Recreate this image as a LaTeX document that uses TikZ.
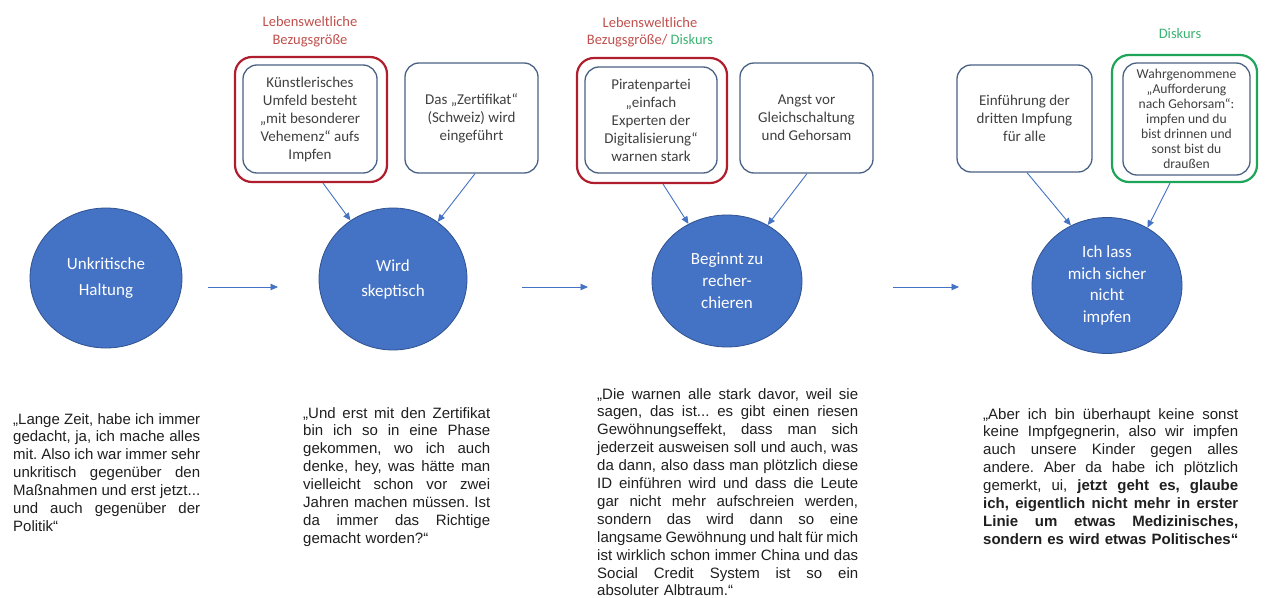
\documentclass[tikz,border=0pt]{standalone}
\usepackage{fontspec}
\setmainfont{Liberation Sans}
\newfontfamily\calfont{Carlito}
\usetikzlibrary{shapes.geometric,arrows.meta}
\definecolor{circfill}{HTML}{4472C4}
\definecolor{circdraw}{HTML}{2F528F}
\definecolor{arrowblue}{HTML}{4472C4}
\definecolor{boxline}{HTML}{4A6283}
\definecolor{boxtext}{HTML}{404040}
\definecolor{framered}{HTML}{B01E2E}
\definecolor{framegreen}{HTML}{1FA55A}
\definecolor{labred}{HTML}{C0504D}
\definecolor{labgreen}{HTML}{3CB371}
\definecolor{quotetext}{HTML}{1F1F1F}
\newlength\qw
\newcommand\jl[1]{\leavevmode\hbox to\qw{\spaceskip=4.17pt plus 1fil minus 1.2pt\relax #1}}
\frenchspacing
\hyphenpenalty=10000
\begin{document}
\begin{tikzpicture}[x=1pt,y=-1pt,
  stage/.style={ellipse, fill=circfill, draw=circdraw, line width=0.8pt, text=white, align=center, inner sep=0pt},
  inbox/.style={rectangle, rounded corners=14pt, draw=boxline, line width=1.3pt, text=boxtext, align=center, inner sep=0pt, font=\calfont\fontsize{15}{18}\selectfont},
  redframe/.style={rectangle, rounded corners=17pt, draw=framered, line width=2.2pt},
  greenframe/.style={rectangle, rounded corners=17pt, draw=framegreen, line width=2.2pt},
  conn/.style={draw=arrowblue, line width=0.9pt, -{Triangle[length=7.5pt,width=6.5pt]}},
  quote/.style={anchor=north west, inner sep=0pt, align=left, text=quotetext, font=\fontsize{15}{17.9}\selectfont, text width=#1, execute at begin node={\setlength\qw{#1}}},
  lab/.style={align=center, inner sep=0pt, font=\calfont\fontsize{14.5}{17.5}\selectfont}]
\useasboundingbox[fill=white] (0,0) rectangle (1268,597);

% labels
\node[lab, text=labred] (l1) at (310,31.5) {Lebensweltliche\\Bezugsgröße};
\node[lab, text=labred] (l2) at (650,32) {Lebensweltliche\\Bezugsgröße/ \textcolor{labgreen}{Diskurs}};
\node[lab, text=labgreen] (l3) at (1180,34) {Diskurs};

% top boxes
\node[redframe, minimum width=152pt, minimum height=125pt] (fA) at (311,119.5) {};
\node[inbox, minimum width=134pt, minimum height=108pt] (bA) at (310,119) {Künstlerisches\\Umfeld besteht\\„mit besonderer\\Vehemenz“ aufs\\Impfen};
\node[inbox, minimum width=133pt, minimum height=110pt] (bB) at (471.5,118) {Das „Zertifikat“\\(Schweiz) wird\\eingeführt};
\node[redframe, minimum width=150pt, minimum height=125pt] (fC) at (652,120.5) {};
\node[inbox, minimum width=132pt, minimum height=106pt] (bC) at (651,120) {Piratenpartei\\„einfach\\Experten der\\Digitalisierung“\\warnen stark};
\node[inbox, minimum width=133pt, minimum height=110pt] (bD) at (806.5,118) {Angst vor\\Gleichschaltung\\und Gehorsam};
\node[inbox, minimum width=135pt, minimum height=107pt] (bE) at (1024.5,118.5) {Einführung der\\dritten Impfung\\für alle};
\node[greenframe, minimum width=145pt, minimum height=127pt] (fF) at (1184.5,118.5) {};
\node[inbox, minimum width=127pt, minimum height=112pt, font=\calfont\fontsize{13.6}{15.1}\selectfont] (bF) at (1186.5,119) {Wahrgenommene\\„Aufforderung\\nach Gehorsam“:\\impfen und du\\bist drinnen und\\sonst bist du\\draußen};

% stages
\node[stage, minimum width=152pt, minimum height=140pt, font=\calfont\fontsize{17}{26}\selectfont] (s1) at (106,278) {Unkritische\\Haltung};
\node[stage, minimum width=148pt, minimum height=142pt, font=\calfont\fontsize{17}{25}\selectfont] (s2) at (393,279) {Wird\\skeptisch};
\node[stage, minimum width=150pt, minimum height=132pt, font=\calfont\fontsize{17}{22}\selectfont] (s3) at (727,281) {Beginnt zu\\recher-\\chieren};
\node[stage, minimum width=150pt, minimum height=136pt, font=\calfont\fontsize{17}{21.7}\selectfont] (s4) at (1107,285.5) {Ich lass\\mich sicher\\nicht\\impfen};

% horizontal arrows
\coordinate (h1a) at (208,287); \coordinate (h1b) at (278,287);
\coordinate (h2a) at (522,287); \coordinate (h2b) at (588,287);
\coordinate (h3a) at (893,287); \coordinate (h3b) at (959,287);
\draw[conn] (h1a) -- (h1b);
\draw[conn] (h2a) -- (h2b);
\draw[conn] (h3a) -- (h3b);

% box to stage arrows
\draw[conn] ([xshift=12pt]fA.south) -- (s2.126);
\draw[conn] ([xshift=3.5pt]bB.south) -- (s2.52);
\draw[conn] ([xshift=11pt]fC.south) -- (s3.124);
\draw[conn] ([xshift=0.5pt]bD.south) -- (s3.54);
\draw[conn] ([xshift=2.5pt]bE.south) -- (s4.121);
\draw[conn] ([xshift=-14.5pt]fF.south) -- (s4.55);

% quotes
\node[quote=187pt] (q1) at (13,413) {%
\jl{„Lange Zeit, habe ich immer}\\
\jl{gedacht, ja, ich mache alles}\\
\jl{mit. Also ich war immer sehr}\\
\jl{unkritisch gegenüber den}\\
\jl{Maßnahmen und erst jetzt...}\\
\jl{und auch gegenüber der}\\
Politik“};
\node[quote=187pt] (q2) at (303,407) {%
\jl{„Und erst mit den Zertifikat}\\
\jl{bin ich so in eine Phase}\\
\jl{gekommen, wo ich auch}\\
\jl{denke, hey, was hätte man}\\
\jl{vielleicht schon vor zwei}\\
\jl{Jahren machen müssen. Ist}\\
\jl{da immer das Richtige}\\
gemacht worden?“};
\node[quote=261pt] (q3) at (597,388) {%
\jl{„Die warnen alle stark davor, weil sie}\\
\jl{sagen, das ist... es gibt einen riesen}\\
\jl{Gewöhnungseffekt, dass man sich}\\
\jl{jederzeit ausweisen soll und auch, was}\\
\jl{da dann, also dass man plötzlich diese}\\
\jl{ID einführen wird und dass die Leute}\\
\jl{gar nicht mehr aufschreien werden,}\\
\jl{sondern das wird dann so eine}\\
\jl{langsame Gewöhnung und halt für mich}\\
\jl{ist wirklich schon immer China und das}\\
\jl{Social Credit System ist so ein}\\
absoluter Albtraum.“};
\node[quote=255pt] (q4) at (983,408) {%
\jl{„Aber ich bin überhaupt keine sonst}\\
\jl{keine Impfgegnerin, also wir impfen}\\
\jl{auch unsere Kinder gegen alles}\\
\jl{andere. Aber da habe ich plötzlich}\\
\jl{gemerkt, ui, \textbf{jetzt geht es, glaube}}\\
\jl{\textbf{ich, eigentlich nicht mehr in erster}}\\
\jl{\textbf{Linie um etwas Medizinisches,}}\\
\mbox{\textbf{sondern es wird etwas Politisches“}}};
\end{tikzpicture}
\end{document}
